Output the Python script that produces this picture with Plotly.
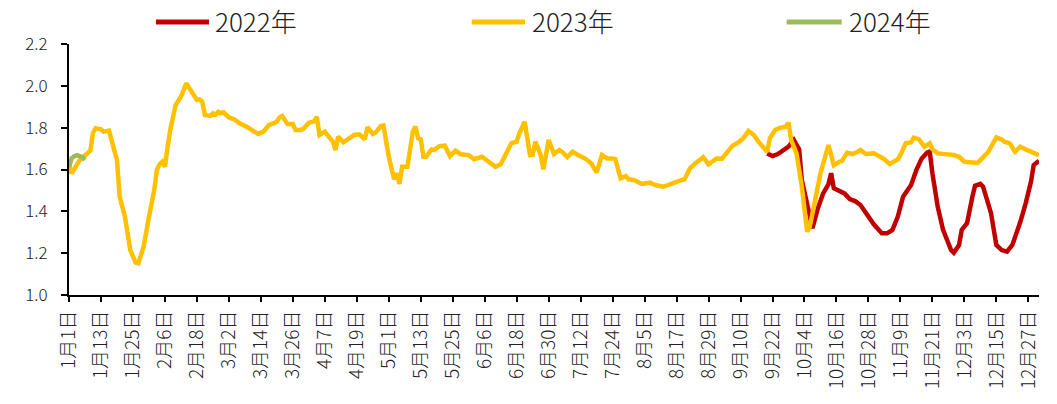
import pandas as pd
import plotly.graph_objects as go

# Day-of-year offsets (0 = 1月1日) and values for each year
days_2022 = [262, 264, 266, 268, 270, 272, 273, 274, 275, 277, 279, 281, 283, 285, 286, 287,
             289, 291, 293, 295, 297, 299, 301, 302, 305, 307, 309, 311, 313, 315, 316, 318,
             320, 322, 323, 324, 326, 328, 329, 331, 332, 334, 335, 337, 339, 340, 342, 343,
             346, 348, 350, 352, 354, 356, 357, 359, 361, 362, 364]
vals_2022 = [1.677, 1.664, 1.674, 1.693, 1.709, 1.741, 1.717, 1.696, 1.55, 1.422, 1.319, 1.414,
             1.486, 1.53, 1.582, 1.51, 1.499, 1.486, 1.459, 1.449, 1.43, 1.391, 1.35, 1.338,
             1.295, 1.295, 1.311, 1.374, 1.47, 1.51, 1.526, 1.598, 1.653, 1.68, 1.685, 1.582,
             1.422, 1.311, 1.276, 1.215, 1.202, 1.239, 1.311, 1.343, 1.47, 1.522, 1.531, 1.518,
             1.391, 1.239, 1.215, 1.207, 1.239, 1.311, 1.35, 1.438, 1.542, 1.621, 1.642]

days_2023 = [0, 1, 4, 6, 8, 9, 10, 12, 13, 15, 18, 19, 21, 23, 25, 26, 28, 30, 32, 33, 34, 35,
             36, 37, 38, 40, 42, 44, 47, 48, 49, 50, 51, 53, 54, 55, 56, 57, 58, 60, 62, 64,
             67, 69, 71, 73, 75, 77, 78, 79, 80, 82, 84, 85, 87, 88, 90, 92, 93, 94, 96, 98,
             99, 100, 101, 103, 105, 107, 109, 111, 112, 114, 115, 117, 118, 120, 122, 123,
             124, 125, 127, 129, 130, 131, 132, 133, 134, 136, 137, 139, 141, 143, 145, 147,
             150, 152, 155, 159, 160, 162, 164, 166, 168, 169, 171, 173, 174, 175, 177, 178,
             180, 182, 184, 185, 187, 189, 191, 194, 196, 198, 200, 202, 204, 205, 207, 209,
             210, 212, 215, 218, 220, 223, 225, 227, 230, 231, 233, 235, 238, 240, 243, 245,
             247, 249, 251, 253, 255, 257, 259, 261, 262, 263, 265, 267, 269, 270, 271, 273,
             275, 277, 278, 280, 282, 285, 287, 289, 290, 292, 294, 296, 297, 299, 302, 304,
             306, 308, 311, 312, 314, 316, 317, 319, 321, 323, 324, 326, 329, 332, 334, 336,
             339, 341, 342, 345, 348, 350, 351, 353, 355, 357, 359, 361, 364]
vals_2023 = [1.62, 1.582, 1.645, 1.669, 1.69, 1.775, 1.797, 1.792, 1.781, 1.786, 1.645, 1.47,
             1.374, 1.215, 1.155, 1.152, 1.231, 1.374, 1.502, 1.6, 1.625, 1.637, 1.613, 1.709,
             1.789, 1.908, 1.948, 2.012, 1.948, 1.932, 1.935, 1.924, 1.86, 1.856, 1.869, 1.862,
             1.876, 1.869, 1.873, 1.849, 1.84, 1.821, 1.802, 1.786, 1.77, 1.781, 1.813, 1.821,
             1.83, 1.849, 1.856, 1.817, 1.817, 1.789, 1.789, 1.795, 1.824, 1.83, 1.852, 1.765,
             1.781, 1.749, 1.733, 1.693, 1.757, 1.73, 1.749, 1.765, 1.768, 1.744, 1.802, 1.77,
             1.776, 1.808, 1.811, 1.661, 1.553, 1.582, 1.531, 1.613, 1.613, 1.78, 1.805, 1.749,
             1.745, 1.661, 1.661, 1.696, 1.693, 1.712, 1.714, 1.664, 1.69, 1.673, 1.669, 1.649,
             1.661, 1.621, 1.613, 1.625, 1.677, 1.725, 1.733, 1.773, 1.828, 1.669, 1.67, 1.733,
             1.669, 1.601, 1.741, 1.674, 1.693, 1.685, 1.659, 1.685, 1.669, 1.65, 1.629, 1.585,
             1.669, 1.653, 1.653, 1.65, 1.558, 1.569, 1.553, 1.55, 1.531, 1.537, 1.526, 1.518,
             1.526, 1.537, 1.55, 1.553, 1.605, 1.629, 1.659, 1.625, 1.653, 1.652, 1.685, 1.714,
             1.728, 1.749, 1.784, 1.765, 1.728, 1.70, 1.685, 1.749, 1.789, 1.80, 1.805, 1.824,
             1.741, 1.677, 1.518, 1.303, 1.327, 1.454, 1.582, 1.717, 1.621, 1.637, 1.64, 1.68,
             1.674, 1.685, 1.693, 1.674, 1.677, 1.664, 1.649, 1.626, 1.649, 1.669, 1.725, 1.73,
             1.752, 1.744, 1.709, 1.725, 1.696, 1.677, 1.674, 1.669, 1.661, 1.637, 1.634, 1.632,
             1.645, 1.685, 1.754, 1.744, 1.733, 1.725, 1.685, 1.709, 1.696, 1.685, 1.669]

days_2024 = [0, 1, 2, 3, 5, 6]
vals_2024 = [1.613, 1.653, 1.664, 1.669, 1.659, 1.645]

tick_labels = ["1月1日", "1月13日", "1月25日", "2月6日", "2月18日", "3月2日", "3月14日",
               "3月26日", "4月7日", "4月19日", "5月1日", "5月13日", "5月25日", "6月6日",
               "6月18日", "6月30日", "7月12日", "7月24日", "8月5日", "8月17日", "8月29日",
               "9月10日", "9月22日", "10月4日", "10月16日", "10月28日", "11月9日", "11月21日",
               "12月3日", "12月15日", "12月27日"]

series = [
    ("2022年", days_2022, vals_2022, "#C00000"),
    ("2023年", days_2023, vals_2023, "#FFC000"),
    ("2024年", days_2024, vals_2024, "#9BBB59"),
]

# All years share one month-day axis, laid on a common non-leap year
base = pd.Timestamp("2023-01-01")
def to_dates(days):
    return base + pd.to_timedelta(days, unit="D")

FONT = "Noto Sans CJK SC"
fig = go.Figure()
for name, d, v, color in series:
    fig.add_trace(go.Scatter(x=to_dates(d), y=v, mode="lines", name=name,
                             line=dict(color=color, width=4.5), showlegend=False))

tick_vals = pd.date_range(base, periods=len(tick_labels), freq="12D")

fig.update_layout(
    width=1057, height=404,
    margin=dict(l=69, r=18, t=44, b=109),
    paper_bgcolor="white", plot_bgcolor="white",
    font=dict(family=FONT, color="#222222"),
    xaxis=dict(
        type="date", range=[base, base + pd.Timedelta(days=364)],
        tickvals=tick_vals, ticktext=tick_labels, tickangle=-90,
        showgrid=False, zeroline=False, showline=True, linecolor="black", linewidth=2,
        ticks="outside", ticklen=5, tickwidth=1.5, tickcolor="black",
        tickfont=dict(size=19, family=FONT, color="#222222", weight=300), ticklabelstandoff=1,
    ),
    yaxis=dict(
        range=[1.0, 2.2], dtick=0.2, tick0=1.0, tickformat=".1f",
        showgrid=False, zeroline=False, showline=True, linecolor="black", linewidth=2,
        ticks="outside", ticklen=6, tickwidth=1.5, tickcolor="black",
        tickfont=dict(size=17, family=FONT, color="#222222", weight=300), ticklabelstandoff=10,
    ),
)

# Legend row above the plot area
legend_pos = [(0.0897, 0.1443, 0.1485), (0.4152, 0.4701, 0.4753), (0.7399, 0.7966, 0.8018)]
for (name, _, _, color), (x0, x1, xt) in zip(series, legend_pos):
    fig.add_shape(type="line", xref="paper", yref="paper", x0=x0, x1=x1, y0=1.088, y1=1.088,
                  line=dict(color=color, width=5))
    fig.add_annotation(xref="paper", yref="paper", x=xt, y=1.094, text=name, showarrow=False,
                       xanchor="left", yanchor="middle",
                       font=dict(size=26, family=FONT, color="#222222", weight=300))

fig.write_html("out.html")
